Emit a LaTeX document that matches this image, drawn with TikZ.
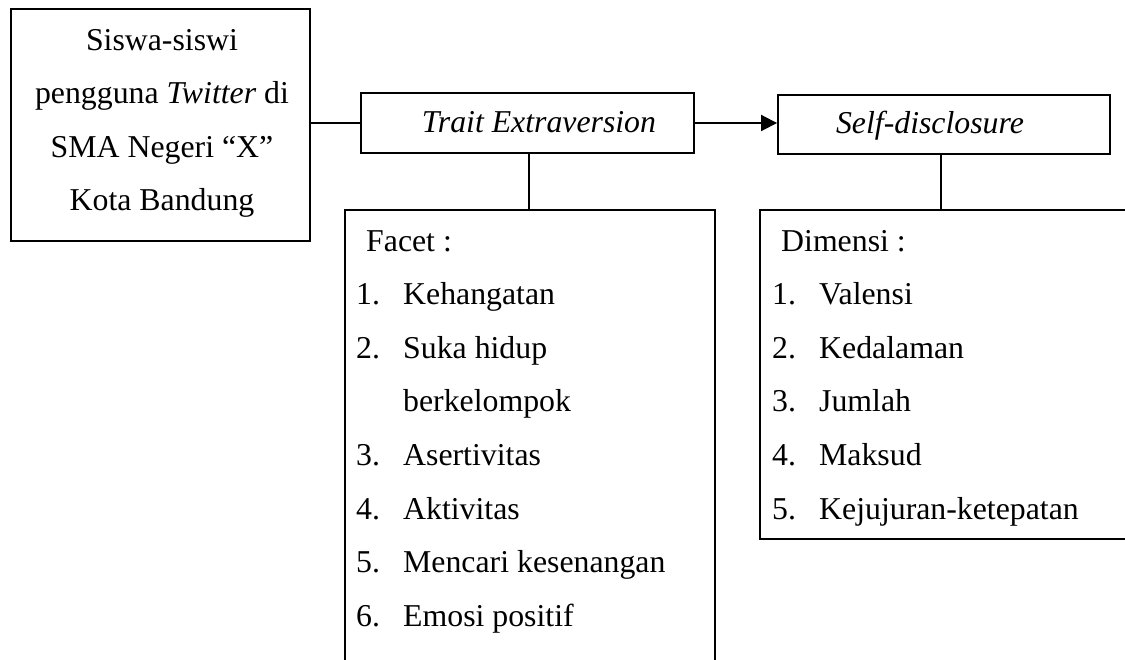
\documentclass[tikz,border=0pt]{standalone}
\usepackage{fontspec}
\setmainfont{Liberation Serif}
\usetikzlibrary{arrows.meta}
\tikzset{
  box/.style={draw, line width=1.9pt, rectangle, inner sep=0pt},
  txt/.style={font=\fontsize{31.8}{37}\selectfont, inner sep=0pt, anchor=base west},
  ctxt/.style={font=\fontsize{31.8}{37}\selectfont, inner sep=0pt, anchor=base},
  link/.style={line width=1.9pt},
}
\begin{document}
\begin{tikzpicture}[x=1pt,y=-1pt]
\useasboundingbox (0,0) rectangle (1125,659);
\clip (0,0) rectangle (1125,659);
% boxes
\node[box, minimum width=299pt, minimum height=232pt] (siswa) at (160.5,125) {};
\node[box, minimum width=333pt, minimum height=60pt] (trait) at (527.5,123) {};
\node[box, minimum width=332pt, minimum height=59pt] (self) at (944,124.5) {};
\node[box, minimum width=370pt, minimum height=490pt] (facet) at (530,455) {};
\node[box, minimum width=380pt, minimum height=329pt] (dimensi) at (950,374.5) {};
% texts of left box
\node[ctxt] (s1) at (162,50) {Siswa-siswi};
\node[ctxt] (s2) at (162,103.6) {pengguna \textit{Twitter} di};
\node[ctxt] (s3) at (162,157.2) {SMA Negeri “X”};
\node[ctxt] (s4) at (162,210.8) {Kota Bandung};
% titles
\node[ctxt] (t1) at (539,132) {\textit{Trait Extraversion}};
\node[ctxt] (t2) at (930,133) {\textit{Self-disclosure}};
% facet list
\node[txt] (f0) at (366,251) {Facet :};
\node[txt] (fn1) at (356,304.6) {1.};
\node[txt] (f1) at (403,304.6) {Kehangatan};
\node[txt] (fn2) at (356,358.2) {2.};
\node[txt] (f2) at (403,358.2) {Suka hidup};
\node[txt] (f2b) at (403,411.8) {berkelompok};
\node[txt] (fn3) at (356,465.4) {3.};
\node[txt] (f3) at (403,465.4) {Asertivitas};
\node[txt] (fn4) at (356,519) {4.};
\node[txt] (f4) at (403,519) {Aktivitas};
\node[txt] (fn5) at (356,572.6) {5.};
\node[txt] (f5) at (403,572.6) {Mencari kesenangan};
\node[txt] (fn6) at (356,626.2) {6.};
\node[txt] (f6) at (403,626.2) {Emosi positif};
% dimensi list
\node[txt] (d0) at (781,251) {Dimensi :};
\node[txt] (dn1) at (772,304.6) {1.};
\node[txt] (d1) at (819,304.6) {Valensi};
\node[txt] (dn2) at (772,358.2) {2.};
\node[txt] (d2) at (819,358.2) {Kedalaman};
\node[txt] (dn3) at (772,411.8) {3.};
\node[txt] (d3) at (819,411.8) {Jumlah};
\node[txt] (dn4) at (772,465.4) {4.};
\node[txt] (d4) at (819,465.4) {Maksud};
\node[txt] (dn5) at (772,519) {5.};
\node[txt] (d5) at (819,519) {Kejujuran-ketepatan};
% connectors
\draw[link] (trait.west -| siswa.east) -- (trait.west);
\draw[link, -{Triangle[length=16pt,width=16pt]}] (trait.east) -- (trait.east -| self.west);
\draw[link] ([xshift=1.5pt]trait.south) -- ([xshift=1.5pt]trait.south |- facet.north);
\draw[link] ([xshift=-3pt]self.south) -- ([xshift=-3pt]self.south |- dimensi.north);
\end{tikzpicture}
\end{document}
